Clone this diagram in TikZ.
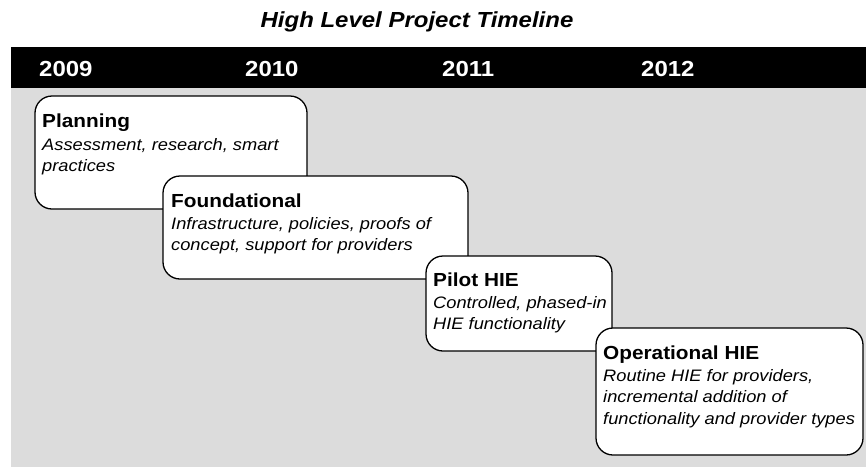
\documentclass[tikz,border=0pt]{standalone}
\usepackage{fontspec}
\setmainfont{Liberation Sans}[FakeStretch=1.1]
\definecolor{bggray}{RGB}{220,220,220}
\begin{document}
\begin{tikzpicture}[x=1pt,y=-1pt,
  phase/.style={draw=black, line width=1.3pt, fill=white, rounded corners=17pt, anchor=north west, inner sep=0pt, outer sep=0pt},
  ttl/.style={anchor=base west, inner sep=0pt, font=\fontsize{18.9}{21}\selectfont\bfseries},
  dsc/.style={anchor=base west, inner sep=0pt, font=\fontsize{16.6}{21}\selectfont\itshape},
  yr/.style={anchor=base west, inner sep=0pt, text=white, font=\fontsize{21.8}{24}\selectfont\bfseries},
  maintitle/.style={anchor=base, inner sep=0pt, font=\fontsize{21.8}{24}\selectfont\bfseries\itshape}]
\useasboundingbox (0,0) rectangle (866,467);
\fill[bggray] (11,88) rectangle (866,467);
\fill[black] (11,47) rectangle (866,88);
\node[maintitle] (title) at (417,27) {High Level Project Timeline};
\node[yr] (y2009) at (39,76) {2009};
\node[yr] (y2010) at (245,76) {2010};
\node[yr] (y2011) at (442,76) {2011};
\node[yr] (y2012) at (641,76) {2012};
% Planning
\node[phase, minimum width=272pt, minimum height=113pt] (p1) at (35,96) {};
\node[ttl] (p1t) at ([shift={(7,31)}]p1.north west) {Planning};
\node[dsc] (p1a) at ([shift={(7,54)}]p1.north west) {Assessment, research, smart};
\node[dsc] (p1b) at ([shift={(7,75)}]p1.north west) {practices};
% Foundational
\node[phase, minimum width=305pt, minimum height=103pt] (p2) at (163,176) {};
\node[ttl] (p2t) at ([shift={(8,31)}]p2.north west) {Foundational};
\node[dsc] (p2a) at ([shift={(8,53)}]p2.north west) {Infrastructure, policies, proofs of};
\node[dsc] (p2b) at ([shift={(8,74)}]p2.north west) {concept, support for providers};
% Pilot
\node[phase, minimum width=186pt, minimum height=95pt] (p3) at (426,256) {};
\node[ttl] (p3t) at ([shift={(7,30)}]p3.north west) {Pilot HIE};
\node[dsc] (p3a) at ([shift={(7,52)}]p3.north west) {Controlled, phased-in};
\node[dsc] (p3b) at ([shift={(7,73)}]p3.north west) {HIE functionality};
% Operational
\node[phase, minimum width=267pt, minimum height=127pt] (p4) at (596,328) {};
\node[ttl] (p4t) at ([shift={(7,31)}]p4.north west) {Operational HIE};
\node[dsc] (p4a) at ([shift={(7,53)}]p4.north west) {Routine HIE for providers,};
\node[dsc] (p4b) at ([shift={(7,74)}]p4.north west) {incremental addition of};
\node[dsc] (p4c) at ([shift={(7,96)}]p4.north west) {functionality and provider types};
\end{tikzpicture}
\end{document}
